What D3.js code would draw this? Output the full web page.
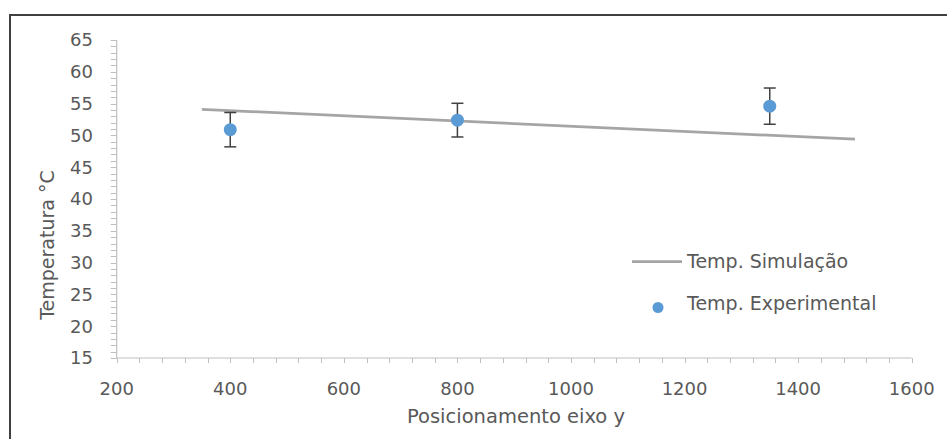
<!DOCTYPE html>
<html><head><meta charset="utf-8">
<script src="https://cdn.jsdelivr.net/npm/d3@7/dist/d3.min.js"></script>
<style>body{margin:0;background:#fff}svg{display:block}</style>
</head><body>
<script>
const simX = [350, 1500];
const simY = [54.1, 49.4];
const expX = [400, 800, 1350];
const expY = [50.9, 52.4, 54.6];
const expErr = [2.7, 2.65, 2.85];
const xTicks = [200, 400, 600, 800, 1000, 1200, 1400, 1600];
const yTicks = [15, 20, 25, 30, 35, 40, 45, 50, 55, 60, 65];
const seriesNames = ["Temp. Simulação", "Temp. Experimental"];
const xTitle = "Posicionamento eixo y";
const yTitle = "Temperatura °C";

const W = 947, H = 439;
const font = "'DejaVu Sans', sans-serif";
const svg = d3.select("body").append("svg").attr("width", W).attr("height", H);
svg.append("rect").attr("x", 0).attr("y", 0).attr("width", W).attr("height", H).attr("fill", "#fff");
svg.append("rect").attr("x", 10).attr("y", 15).attr("width", W + 20).attr("height", H + 20)
  .attr("fill", "none").attr("stroke", "#404040").attr("stroke-width", 2);

const x = d3.scaleLinear().domain([200, 1600]).range([116.7, 911.7]);
const y = d3.scaleLinear().domain([15, 65]).range([358, 40]);

const axisColor = "#bfbfbf", textColor = "#595959";

// x axis minor ticks
const gx = svg.append("g");
gx.append("line").attr("x1", x(200)).attr("x2", x(1600)).attr("y1", y(15)).attr("y2", y(15))
  .attr("stroke", axisColor).attr("stroke-width", 1.2);
gx.selectAll("line.t").data(d3.range(200, 1601, 40)).join("line").attr("class", "t")
  .attr("x1", d => Math.round(x(d)) + 0.5).attr("x2", d => Math.round(x(d)) + 0.5)
  .attr("y1", y(15)).attr("y2", y(15) + 5).attr("stroke", axisColor).attr("stroke-width", 1);
gx.selectAll("text").data(xTicks).join("text")
  .attr("x", d => x(d)).attr("y", 395).attr("text-anchor", "middle")
  .attr("font-family", font).attr("font-size", 18).attr("fill", textColor).text(d => d);

const gy = svg.append("g");
gy.append("line").attr("x1", x(200)).attr("x2", x(200)).attr("y1", y(15)).attr("y2", y(65))
  .attr("stroke", axisColor).attr("stroke-width", 1.2);
gy.selectAll("line.t").data(d3.range(15, 65.1, 1)).join("line").attr("class", "t")
  .attr("x1", x(200) - 6).attr("x2", x(200))
  .attr("y1", d => Math.round(y(d)) + 0.5).attr("y2", d => Math.round(y(d)) + 0.5)
  .attr("stroke", axisColor).attr("stroke-width", 1);
gy.selectAll("text").data(yTicks).join("text")
  .attr("x", 93).attr("y", d => y(d)).attr("dy", "0.36em").attr("text-anchor", "end")
  .attr("font-family", font).attr("font-size", 18).attr("fill", textColor).text(d => d);

svg.append("text").attr("x", 516).attr("y", 423).attr("text-anchor", "middle")
  .attr("font-family", font).attr("font-size", 19.5).attr("fill", textColor).text(xTitle);
svg.append("text").attr("transform", "translate(54,245) rotate(-90)").attr("text-anchor", "middle")
  .attr("font-family", font).attr("font-size", 19).attr("fill", textColor).text(yTitle);

// simulation line
const line = d3.line().x((d, i) => x(simX[i])).y(d => y(d));
svg.append("path").attr("d", line(simY)).attr("fill", "none")
  .attr("stroke", "#a5a5a5").attr("stroke-width", 2.75);

// error bars
const eb = svg.append("g").attr("stroke", "#404040").attr("stroke-width", 1.5);
expX.forEach((xv, i) => {
  const cx = x(xv), t = y(expY[i] + expErr[i]), b = y(expY[i] - expErr[i]);
  eb.append("line").attr("x1", cx).attr("x2", cx).attr("y1", t).attr("y2", b);
  eb.append("line").attr("x1", cx - 6).attr("x2", cx + 6).attr("y1", t).attr("y2", t);
  eb.append("line").attr("x1", cx - 6).attr("x2", cx + 6).attr("y1", b).attr("y2", b);
});
svg.selectAll("circle.p").data(expY).join("circle").attr("class", "p")
  .attr("cx", (d, i) => x(expX[i])).attr("cy", d => y(d)).attr("r", 6.5).attr("fill", "#5b9bd5");

// legend
const lg = svg.append("g");
lg.append("line").attr("x1", 632).attr("x2", 682).attr("y1", 261.5).attr("y2", 261.5)
  .attr("stroke", "#a5a5a5").attr("stroke-width", 2.75);
lg.append("text").attr("x", 687).attr("y", 261).attr("dy", "0.36em")
  .attr("font-family", font).attr("font-size", 19).attr("fill", textColor).text(seriesNames[0]);
lg.append("circle").attr("cx", 658).attr("cy", 307.5).attr("r", 5.5).attr("fill", "#5b9bd5");
lg.append("text").attr("x", 687).attr("y", 303).attr("dy", "0.36em")
  .attr("font-family", font).attr("font-size", 19).attr("fill", textColor).text(seriesNames[1]);
</script>
</body></html>
